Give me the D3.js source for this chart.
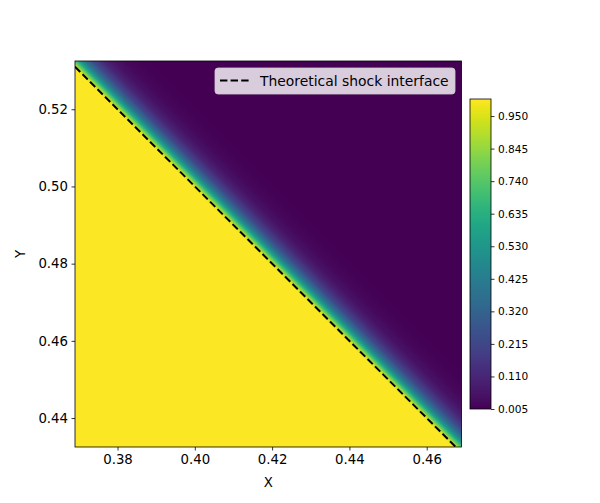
<!DOCTYPE html>
<html><head><meta charset="utf-8">
<script src="https://cdn.jsdelivr.net/npm/d3@7"></script>
<style>body{margin:0;background:#fff} svg{display:block} text{font-family:"DejaVu Sans",sans-serif;fill:#000}</style>
</head><body><svg id="c" width="600" height="503"></svg>
<script>
// ---- data ----
const xDomain = [0.369, 0.469];
const yDomain = [0.4325, 0.5325];
const xTicks = [0.38, 0.40, 0.42, 0.44, 0.46];
const yTicks = [0.44, 0.46, 0.48, 0.50, 0.52];
const cbTicks = [0.005, 0.110, 0.215, 0.320, 0.425, 0.530, 0.635, 0.740, 0.845, 0.950];
const cbDomain = [0.005, 1.005];
const shockSum = 0.9;               // theoretical interface: x + y = 0.9
// field value across the interface (offset in x+y from the interface)
const profileOffset = [-0.0006, 0.0, 0.0016, 0.0029, 0.0042, 0.0062, 0.0088, 0.0114, 0.0143, 0.018, 0.024, 0.04];
const profileValue  = [1.0,     0.95, 0.72,  0.52,   0.37,   0.22,   0.11,   0.055,  0.028,  0.012, 0.005, 0.005];
const legendLabel = "Theoretical shock interface";

// ---- layout ----
const L = 75, R = 461.5, T = 61, B = 447;
const cbL = 470, cbR = 491, cbT = 99, cbB = 409;
const svg = d3.select("#c");
const xs = d3.scaleLinear().domain(xDomain).range([L, R]);
const ys = d3.scaleLinear().domain(yDomain).range([B, T]);
const prof = d3.scaleLinear().domain(profileOffset).range(profileValue).clamp(true);
const cs = d3.scaleSequential(d3.interpolateViridis).domain(cbDomain);

// heatmap
const W = Math.ceil(R - L), H = Math.ceil(B - T);
const cv = document.createElement("canvas"); cv.width = W; cv.height = H;
const ctx = cv.getContext("2d");
const img = ctx.createImageData(W, H);
for (let j = 0; j < H; j++) {
  const y = ys.invert(T + j + 0.5);
  for (let i = 0; i < W; i++) {
    const x = xs.invert(L + i + 0.5);
    const c = d3.rgb(cs(prof(x + y - shockSum)));
    const k = 4 * (j * W + i);
    img.data[k] = c.r; img.data[k+1] = c.g; img.data[k+2] = c.b; img.data[k+3] = 255;
  }
}
ctx.putImageData(img, 0, 0);
svg.append("defs").append("clipPath").attr("id", "clip")
  .append("rect").attr("x", L).attr("y", T).attr("width", R - L).attr("height", B - T);
svg.append("image").attr("x", L).attr("y", T).attr("width", R - L).attr("height", B - T)
  .attr("preserveAspectRatio", "none").attr("href", cv.toDataURL());

// shock line
const lineData = [[xDomain[0], shockSum - xDomain[0]], [shockSum - yDomain[0], yDomain[0]]];
svg.append("path").attr("clip-path", "url(#clip)")
  .attr("d", d3.line().x(d => xs(d[0])).y(d => ys(d[1]))(lineData))
  .attr("fill", "none").attr("stroke", "#000").attr("stroke-width", 2)
  .attr("stroke-dasharray", "7.4,3.2");

// frame
svg.append("rect").attr("x", L).attr("y", T).attr("width", R - L).attr("height", B - T)
  .attr("fill", "none").attr("stroke", "#000").attr("stroke-width", 0.8);

// axes
function styleAxis(g, fs) {
  g.select(".domain").remove();
  g.selectAll(".tick line").attr("stroke", "#000").attr("stroke-width", 0.8);
  g.selectAll(".tick text").attr("font-size", fs).attr("font-family", "DejaVu Sans").attr("fill", "#000");
}
const fmt2 = d3.format(".2f");
svg.append("g").attr("transform", `translate(0,${B})`)
  .call(d3.axisBottom(xs).tickValues(xTicks).tickFormat(fmt2).tickSize(3.5).tickPadding(4.5))
  .call(g => styleAxis(g, "13.3px"));
svg.append("g").attr("transform", `translate(${L},0)`)
  .call(d3.axisLeft(ys).tickValues(yTicks).tickFormat(fmt2).tickSize(3.5).tickPadding(3.5))
  .call(g => styleAxis(g, "13.3px"));

svg.append("text").attr("x", (L + R) / 2).attr("y", 487).attr("text-anchor", "middle")
  .attr("font-size", "13.3px").text("X");
svg.append("text").attr("transform", `translate(25,${(T + B) / 2}) rotate(-90)`)
  .attr("text-anchor", "middle").attr("font-size", "13.3px").text("Y");

// legend
const lg = svg.append("g");
lg.append("rect").attr("x", 215).attr("y", 68).attr("width", 240).attr("height", 26).attr("rx", 3)
  .attr("fill", "#fff").attr("fill-opacity", 0.8).attr("stroke", "#ccc").attr("stroke-opacity", 0.8).attr("stroke-width", 1);
lg.append("line").attr("x1", 220).attr("x2", 250).attr("y1", 80.5).attr("y2", 80.5)
  .attr("stroke", "#000").attr("stroke-width", 2).attr("stroke-dasharray", "7.4,3.2");
lg.append("text").attr("x", 260).attr("y", 85.5).attr("font-size", "13.9px").text(legendLabel);

// colorbar
const grad = svg.select("defs").append("linearGradient").attr("id", "cbg")
  .attr("x1", 0).attr("y1", 1).attr("x2", 0).attr("y2", 0);
d3.range(0, 1.0001, 0.02).forEach(t => {
  grad.append("stop").attr("offset", t).attr("stop-color", cs(cbDomain[0] + t * (cbDomain[1] - cbDomain[0])));
});
svg.append("rect").attr("x", cbL).attr("y", cbT).attr("width", cbR - cbL).attr("height", cbB - cbT)
  .attr("fill", "url(#cbg)").attr("stroke", "#000").attr("stroke-width", 0.8);
const cys = d3.scaleLinear().domain(cbDomain).range([cbB, cbT]);
svg.append("g").attr("transform", `translate(${cbR},0)`)
  .call(d3.axisRight(cys).tickValues(cbTicks).tickFormat(d3.format(".3f")).tickSize(3.5).tickPadding(3.5))
  .call(g => styleAxis(g, "10.6px"));
</script></body></html>
